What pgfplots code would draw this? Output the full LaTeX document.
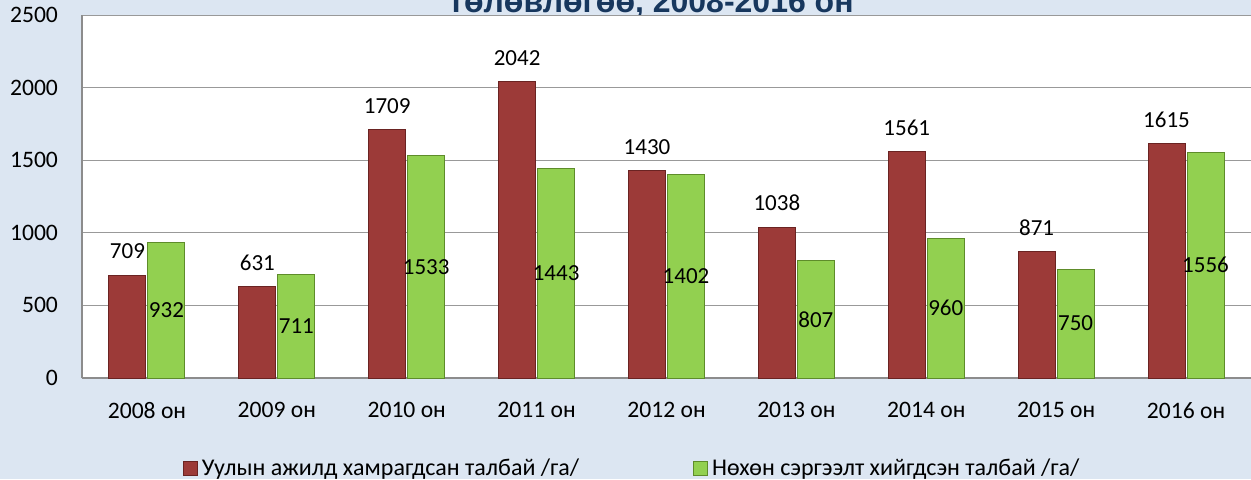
\documentclass[border=0pt]{standalone}
\usepackage{fontspec}
\setmainfont{Carlito}
\newfontfamily\titlefont{Liberation Sans}
\usepackage{pgfplots}
\pgfplotsset{compat=1.18}
\definecolor{bgblue}{HTML}{DCE6F2}
\definecolor{barred}{HTML}{9C3A38}
\definecolor{barredD}{HTML}{6A2322}
\definecolor{bargreen}{HTML}{92D050}
\definecolor{bargreenD}{HTML}{5E8C2A}
\definecolor{titleblue}{HTML}{17375E}

\pgfplotstableread{
x red green
0 709 932
1 631 711
2 1709 1533
3 2042 1443
4 1430 1402
5 1038 807
6 1561 960
7 871 750
8 1615 1556
}\datatable

\begin{document}
\begin{tikzpicture}
\path[use as bounding box] (-41pt,-50.5pt) rectangle (584.5pt,189pt);
\clip (-41pt,-50.5pt) rectangle (584.5pt,189pt);
\fill[bgblue] (-41pt,-50.5pt) rectangle (584.5pt,189pt);
\node[anchor=base, inner sep=0pt, text=titleblue, font=\titlefont\bfseries\fontsize{16}{19}\selectfont]
  at (284.5pt,183pt) {төлөвлөгөө, 2008-2016 он};
\begin{axis}[
  at={(0,0)}, anchor=south west,
  width=584.5pt, height=181.5pt, scale only axis,
  xmin=-0.5, xmax=8.5, ymin=0, ymax=2500,
  ybar=1pt, bar width=18.5pt,
  axis background/.style={fill=white},
  ytick={0,500,...,2500},
  xtick={0,...,8},
  xticklabels={2008 он,2009 он,2010 он,2011 он,2012 он,2013 он,2014 он,2015 он,2016 он},
  major tick length=0pt,
  ymajorgrids, grid style={draw=black!40, line width=0.5pt},
  axis x line*=bottom, axis y line*=left,
  axis line style={draw=black!45, line width=0.6pt},
  tick label style={font=\fontsize{11.8}{14}\selectfont},
  /pgf/number format/assume math mode=true,
  /pgf/number format/1000 sep={},
  yticklabel style={anchor=east, xshift=-8.5pt},
  xticklabel style={yshift=-8.5pt},
  legend style={at={(0.0864,-0.2493)}, anchor=west, draw=none, fill=none,
    inner sep=0pt, outer sep=0pt,
    font=\fontsize{12}{14}\selectfont, legend columns=2,
    /tikz/every even column/.append style={column sep=55pt}},
  legend image code/.code={\fill[#1] (0pt,-3.6pt) rectangle (7pt,3.6pt);},
  nodes near coords style={font=\fontsize{11.5}{14}\selectfont, text=black},
]
\addplot[fill=barred, draw=barredD, line width=0.5pt,
  nodes near coords, nodes near coords style={anchor=south, yshift=4.5pt}]
  table[x=x, y=red] {\datatable};
\addplot[fill=bargreen, draw=bargreenD, line width=0.5pt,
  visualization depends on=rawy\as\rawy,
  nodes near coords, nodes near coords style={anchor=center, yshift={-0.0363pt*\rawy}}]
  table[x=x, y=green] {\datatable};
\legend{Уулын ажилд хамрагдсан талбай /га/, Нөхөн сэргээлт хийгдсэн талбай /га/}
\end{axis}
\end{tikzpicture}
\end{document}
